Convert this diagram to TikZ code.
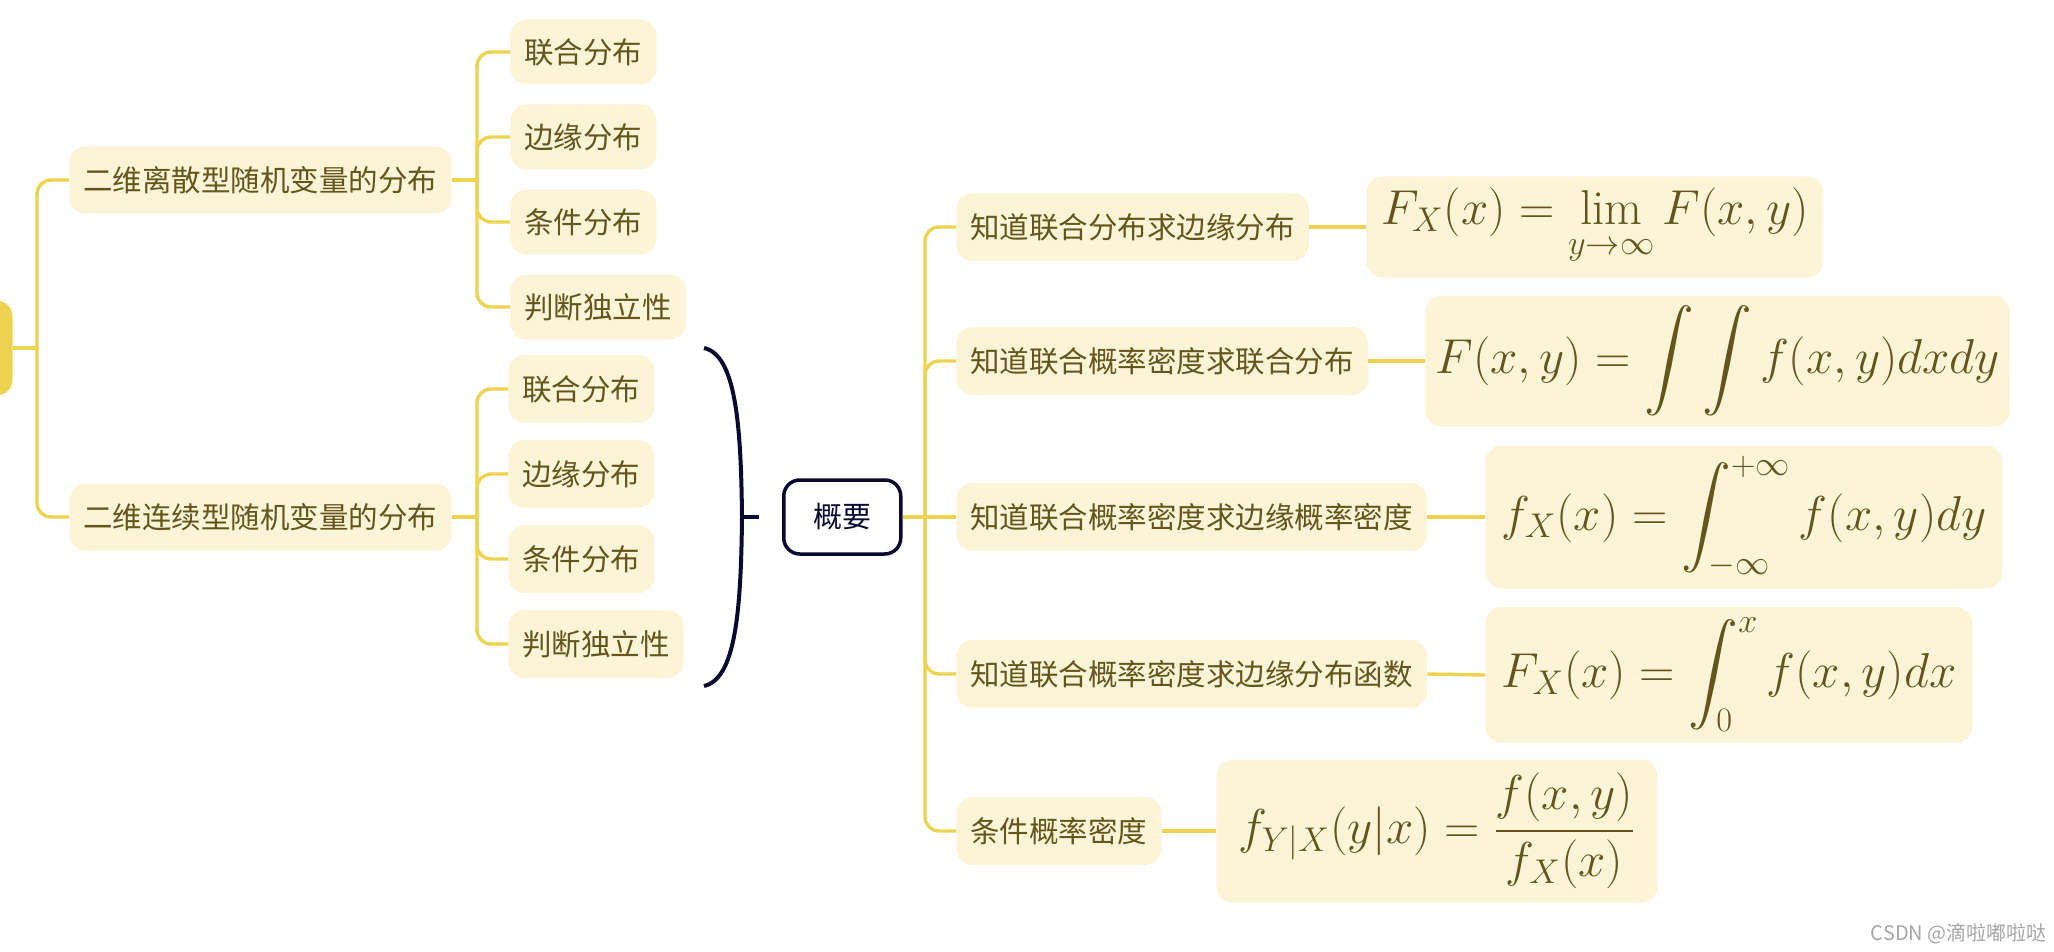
\RequirePackage{fix-cm}
\documentclass[tikz,border=0pt]{standalone}
\usepackage{amsmath}
\usepackage{fontspec}
\newfontfamily\cjk{Noto Sans CJK SC}
\definecolor{lineyellow}{RGB}{237,211,80}
\definecolor{cream}{RGB}{252,244,215}
\definecolor{olive}{RGB}{100,85,28}
\definecolor{navy}{RGB}{10,10,48}
\definecolor{wmgray}{RGB}{165,165,165}
\tikzset{
  leaf/.style={fill=cream, rounded corners=8pt, inner xsep=7pt, inner ysep=0pt,
    minimum height=34pt, text=olive, anchor=west,
    font=\cjk\fontsize{14.75pt}{18pt}\selectfont},
  fbox/.style={fill=cream, rounded corners=8pt, inner xsep=5pt, inner ysep=0pt,
    text=olive, anchor=west, font=\fontsize{24.5pt}{29pt}\selectfont},
  link/.style={draw=lineyellow, line width=1.7pt, rounded corners=7pt},
  bracestyle/.style={draw=navy, line width=2pt},
}
\begin{document}
\begin{tikzpicture}[x=0.5pt, y=-0.5pt]
\useasboundingbox (0,0) rectangle (2054,952);
% root (mostly outside the frame)
\node[fill=lineyellow, rounded corners=8pt, minimum width=40pt, minimum height=47.5pt,
  inner sep=0pt, anchor=east] (root) at (13,348) {};
% level 1
\node[leaf, minimum height=33.5pt] (p1) at (69,180) {二维离散型随机变量的分布};
\node[leaf, minimum height=33.5pt] (p2) at (69,517) {二维连续型随机变量的分布};
% level 2, top group
\node[leaf, minimum height=32.5pt] (a1) at (510,52)  {联合分布};
\node[leaf, minimum height=32.5pt] (a2) at (510,137) {边缘分布};
\node[leaf, minimum height=32.5pt] (a3) at (510,222) {条件分布};
\node[leaf, minimum height=32.5pt] (a4) at (510,307) {判断独立性};
% level 2, bottom group
\node[leaf] (b1) at (508,389) {联合分布};
\node[leaf] (b2) at (508,474) {边缘分布};
\node[leaf] (b3) at (508,559) {条件分布};
\node[leaf] (b4) at (508,644) {判断独立性};
% summary
\node[draw=navy, line width=1.75pt, fill=white, rounded corners=8pt, anchor=west,
  minimum width=58.5pt, minimum height=37pt, inner sep=0pt, text=navy,
  font=\cjk\fontsize{14.5pt}{18pt}\selectfont] (gy) at (782,517) {概要};
% right children
\node[leaf] (r1) at (956,227) {知道联合分布求边缘分布};
\node[leaf] (r2) at (956,361) {知道联合概率密度求联合分布};
\node[leaf] (r3) at (956,517) {知道联合概率密度求边缘概率密度};
\node[leaf] (r4) at (956,674) {知道联合概率密度求边缘分布函数};
\node[leaf] (r5) at (956,831) {条件概率密度};
% formulas
\node[fbox, minimum width=228.5pt, minimum height=50.5pt] (f1) at (1366,227)
  {$\displaystyle F_X(x)=\lim_{y\to\infty}F(x,y)$};
\node[fbox, minimum width=286pt, minimum height=65.5pt] (f2) at (1425,361)
  {$\displaystyle F(x,y)=\int\int f(x,y)dxdy$};
\node[fbox, minimum width=258.5pt, minimum height=71.5pt] (f3) at (1485,517)
  {$\displaystyle f_X(x)=\int_{-\infty}^{+\infty}f(x,y)dy$};
\node[fbox, minimum width=243.5pt, minimum height=68pt] (f4) at (1485,675)
  {$\displaystyle F_X(x)=\int_0^x f(x,y)dx$};
\node[fbox, minimum width=220.5pt, minimum height=71.5pt] (f5) at (1216,831)
  {$\displaystyle f_{Y|X}(y|x)=\frac{f(x,y)}{f_X(x)}$};
% trunk coordinates
\coordinate (t0) at (37,348);
\coordinate (t1) at (477,180);
\coordinate (t2) at (477,517);
\coordinate (t3) at (925,517);
% connectors
\draw[link] (root.east) -- (t0);
\draw[link] (t0) |- (p1.west);
\draw[link] (t0) |- (p2.west);
\draw[link] (p1.east) -- (t1);
\draw[link] (t1) |- (a1.west);
\draw[link] (t1) |- (a2.west);
\draw[link] (t1) |- (a3.west);
\draw[link] (t1) |- (a4.west);
\draw[link] (p2.east) -- (t2);
\draw[link] (t2) |- (b1.west);
\draw[link] (t2) |- (b2.west);
\draw[link] (t2) |- (b3.west);
\draw[link] (t2) |- (b4.west);
\draw[link] (gy.east) -- (t3);
\draw[link] (t3) |- (r1.west);
\draw[link] (t3) |- (r2.west);
\draw[link] (t3) -- (r3.west);
\draw[link] (t3) |- (r4.west);
\draw[link] (t3) |- (r5.west);
\draw[link] (r1.east) -- (f1.west);
\draw[link] (r2.east) -- (f2.west);
\draw[link] (r3.east) -- (f3.west);
\draw[link] (r4.east) -- (f4.west);
\draw[link] (r5.east) -- (f5.west);
% summary brace
\coordinate (bt) at (704,348);
\coordinate (bm) at (742,517);
\coordinate (bb) at (704,686);
\coordinate (btip) at (759,517);
\draw[bracestyle] (bt) .. controls (735,355) and (741,420) .. (bm)
  .. controls (741,614) and (735,679) .. (bb);
\draw[bracestyle] (bm) -- (btip);
% watermark
\node[anchor=east, inner sep=0pt, text=wmgray, font=\cjk\fontsize{10pt}{12pt}\selectfont]
  (wm) at (2047,934) {CSDN @滴啦嘟啦哒};
\end{tikzpicture}
\end{document}
